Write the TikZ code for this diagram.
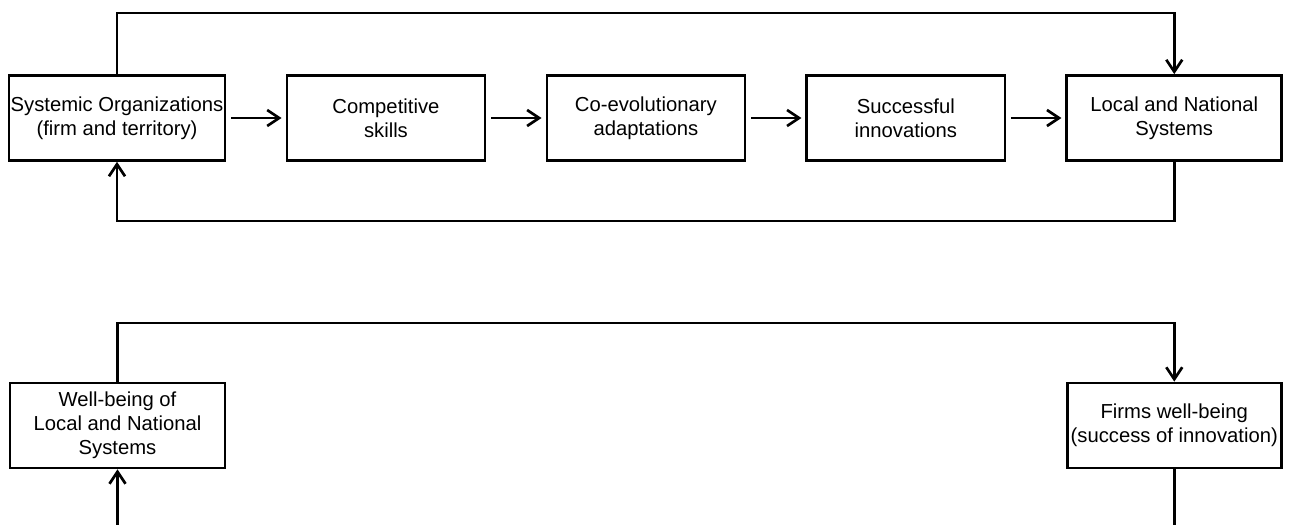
\documentclass[tikz,border=0pt]{standalone}
\usepackage{fontspec}
\setmainfont{Liberation Sans}
\usetikzlibrary{arrows.meta,positioning}

\begin{document}
\begin{tikzpicture}[
    x=0.025cm, y=-0.025cm,
    stagebox/.style={draw, line width=1.9pt, align=center, inner sep=1pt,
        minimum height=2.125cm, font=\fontsize{14.4pt}{17pt}\selectfont},
    flowarrow/.style={line width=1.9pt, -{Straight Barb[length=0.3cm,width=0.4cm]}},
    loopline/.style={line width=1.9pt}
]
\useasboundingbox (0,0) rectangle (1294,525);

% upper chain
\node[stagebox, minimum width=5.4cm] (sysorg) at (117,118)
    {Systemic Organizations\\(firm and territory)};
\node[stagebox, minimum width=4.95cm, right=1.48cm of sysorg] (skills)
    {Competitive\\skills};
\node[stagebox, minimum width=4.95cm, right=1.48cm of skills] (coevo)
    {Co-evolutionary\\adaptations};
\node[stagebox, minimum width=4.95cm, right=1.48cm of coevo] (innov)
    {Successful\\innovations};
\node[stagebox, minimum width=5.375cm, right=1.48cm of innov] (lnsys)
    {Local and National\\Systems};

\draw[flowarrow, shorten <=0.12cm, shorten >=0.1cm] (sysorg) -- (skills);
\draw[flowarrow, shorten <=0.12cm, shorten >=0.1cm] (skills) -- (coevo);
\draw[flowarrow, shorten <=0.12cm, shorten >=0.1cm] (coevo) -- (innov);
\draw[flowarrow, shorten <=0.12cm, shorten >=0.1cm] (innov) -- (lnsys);

% feedback loops of the upper chain
\coordinate (toprail) at (0,13);
\coordinate (lowrail) at (0,221);
\draw[loopline, flowarrow] (sysorg.north) -- (sysorg.north |- toprail) -| (lnsys.north);
\draw[loopline, flowarrow] (lnsys.south) -- (lnsys.south |- lowrail) -| (sysorg.south);

% lower pair
\node[stagebox, minimum width=5.375cm] (wellsys) at (117.5,425.5)
    {Well-being of\\Local and National\\Systems};
\node[stagebox, minimum width=5.35cm] (wellfirm) at (lnsys |- wellsys)
    {Firms well-being\\(success of innovation)};

\coordinate (midrail) at (0,323);
\coordinate (cutedge) at (0,525);
\draw[loopline, flowarrow] (wellsys.north) -- (wellsys.north |- midrail) -| (wellfirm.north);
\draw[loopline] (wellfirm.south) -- (wellfirm.south |- cutedge);
\draw[loopline, flowarrow] (wellsys.south |- cutedge) -- (wellsys.south);
\end{tikzpicture}
\end{document}
